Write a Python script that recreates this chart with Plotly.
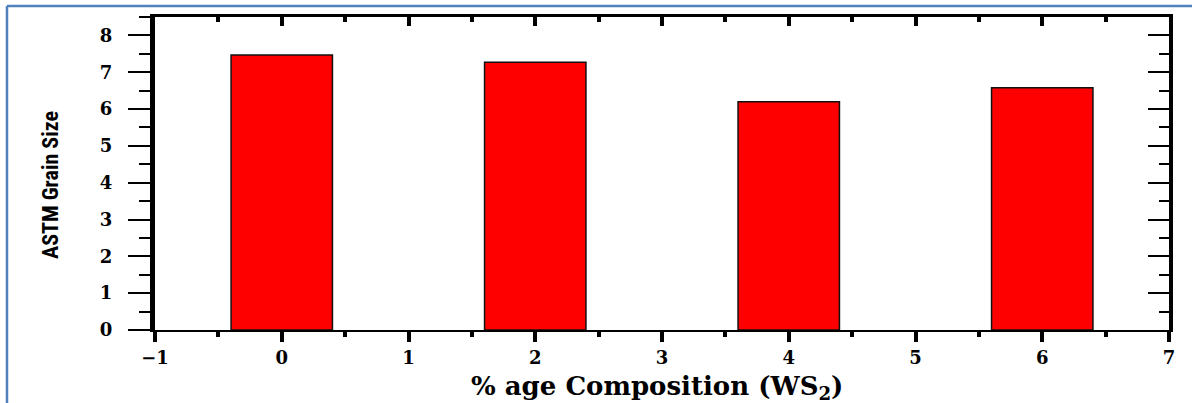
import plotly.graph_objects as go

# Data
compositions = [0, 2, 4, 6]
grain_size = [7.47, 7.27, 6.2, 6.58]
x_ticks = [-1, 0, 1, 2, 3, 4, 5, 6, 7]
y_ticks = [0, 1, 2, 3, 4, 5, 6, 7, 8]
x_title = "% age Composition (WS<sub>2</sub>)"
y_title = "ASTM Grain Size"

W, H = 1195, 403
L, R, T, B = 155, 1169, 17, 330
pw, ph = R - L, B - T

def px(x):
    return (x - L) / pw

def py(y):
    return (B - y) / ph

serif = "DejaVu Serif, Liberation Serif, serif"
narrow = "Liberation Sans Narrow, Roboto Condensed, Liberation Sans, sans-serif"

fig = go.Figure()
fig.add_trace(go.Bar(
    x=compositions, y=grain_size, width=0.8,
    marker=dict(color="#FF0000", line=dict(color="#111111", width=1.5)),
    showlegend=False,
))
# invisible trace for secondary axes
fig.add_trace(go.Scatter(x=[None], y=[None], xaxis="x2", yaxis="y2", showlegend=False))

tickfont = dict(family=serif, size=18, color="black", weight="bold")

fig.update_layout(
    width=W, height=H,
    margin=dict(l=L, r=W - R, t=T, b=H - B),
    paper_bgcolor="white", plot_bgcolor="white",
    xaxis=dict(
        range=[-1, 7], tickvals=x_ticks, ticks="outside", ticklen=10, tickwidth=4,
        tickcolor="black", showline=True, linecolor="black", linewidth=2,
        showgrid=False, zeroline=False, tickfont=tickfont, ticklabelstandoff=0,
        minor=dict(dtick=0.5, tick0=-1, ticks="outside", ticklen=5, tickwidth=4, tickcolor="black", showgrid=False),
    ),
    yaxis=dict(
        range=[0, 8.5], tickvals=y_ticks, ticks="outside", ticklen=22, tickwidth=2,
        tickcolor="black", showline=True, linecolor="black", linewidth=5,
        showgrid=False, zeroline=False, tickfont=tickfont, ticklabelstandoff=12,
        minor=dict(dtick=0.5, tick0=0, ticks="outside", ticklen=11, tickwidth=2, tickcolor="black", showgrid=False),
    ),
    xaxis2=dict(
        range=[-1, 7], overlaying="x", side="top", tickvals=x_ticks, ticks="inside",
        ticklen=9, tickwidth=4, tickcolor="black", showline=True, linecolor="black",
        linewidth=3, showgrid=False, zeroline=False, showticklabels=False,
        minor=dict(dtick=0.5, tick0=-1, ticks="inside", ticklen=5, tickwidth=4, tickcolor="black", showgrid=False),
    ),
    yaxis2=dict(
        range=[0, 8.5], overlaying="y", side="right", tickvals=y_ticks, ticks="inside",
        ticklen=21, tickwidth=2, tickcolor="black", showline=True, linecolor="black",
        linewidth=4, showgrid=False, zeroline=False, showticklabels=False,
        minor=dict(dtick=0.5, tick0=0, ticks="inside", ticklen=10, tickwidth=2, tickcolor="black", showgrid=False),
    ),
    annotations=[
        dict(text=x_title, xref="paper", yref="paper", x=px(657), y=py(387),
             xanchor="center", yanchor="middle", showarrow=False,
             font=dict(family=serif, size=26, color="black", weight="bold")),
        dict(text=y_title, xref="paper", yref="paper", x=px(50), y=py(185),
             xanchor="center", yanchor="middle", showarrow=False, textangle=-90,
             font=dict(family=narrow, size=22, color="black", weight="bold")),
    ],
    shapes=[
        dict(type="line", xref="paper", yref="paper", x0=px(7), x1=px(1192), y0=py(6), y1=py(6),
             line=dict(color="#4F81BD", width=2.5)),
        dict(type="line", xref="paper", yref="paper", x0=px(7), x1=px(7), y0=py(6), y1=py(410),
             line=dict(color="#4F81BD", width=2.5)),
    ],
)

fig.write_html(
    "out.html",
    config={"displayModeBar": False},
    post_script="document.body.style.margin='0';document.body.style.overflow='hidden';",
)
